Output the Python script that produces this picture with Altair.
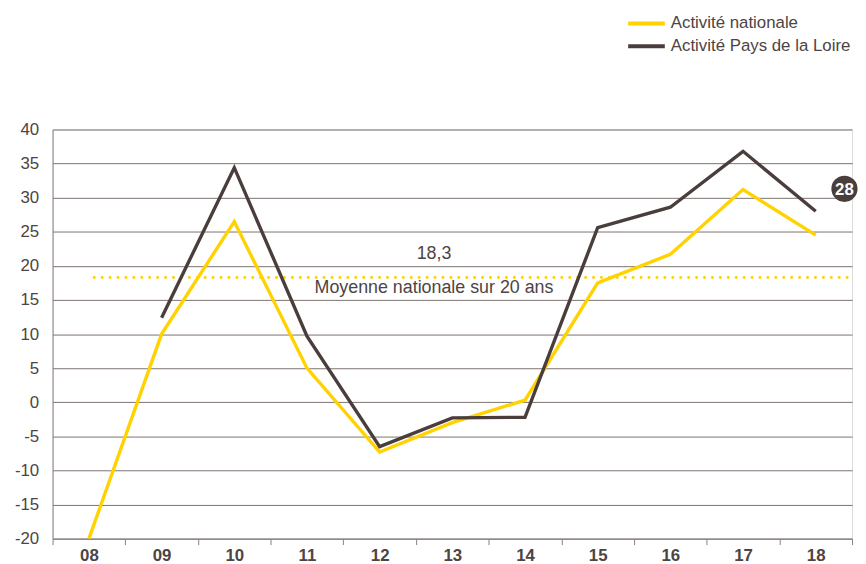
import altair as alt
import pandas as pd

years = ["08", "09", "10", "11", "12", "13", "14", "15", "16", "17", "18"]
national = [-20, 10, 26.5, 5, -7.3, -3, 0.3, 17.5, 21.7, 31.2, 24.5]
pdl = [None, 12.4, 34.4, 9.7, -6.5, -2.3, -2.2, 25.6, 28.6, 36.8, 28]
series_names = ["Activité nationale", "Activité Pays de la Loire"]
series_colors = ["#FFD200", "#4A3E3C"]
moyenne = 18.3
badge_value = "28"

rows = []
for y, v in zip(years, national):
    rows.append({"annee": y, "valeur": v, "serie": series_names[0]})
for y, v in zip(years, pdl):
    if v is not None:
        rows.append({"annee": y, "valeur": v, "serie": series_names[1]})
df = pd.DataFrame(rows)

FONT = "Liberation Sans"
TXT = "#4D4443"
FS = 17
FS2 = 18

xscale = alt.Scale(type="band", domain=years, paddingInner=0, paddingOuter=0)
yscale = alt.Scale(domain=[-20, 40], nice=False)

xaxis = alt.Axis(title=None, labelAngle=0, labelFontWeight="bold",
                 labelFontSize=FS, labelColor=TXT, labelFont=FONT,
                 tickBand="extent", ticks=True, tickSize=6,
                 tickColor="#8A807D", domainColor="#8A807D",
                 labelPadding=3, grid=False)
yaxis = alt.Axis(title=None, values=list(range(-20, 45, 5)),
                 labelExpr="'' + datum.value",
                 labelFontSize=FS, labelColor=TXT, labelFont=FONT,
                 ticks=False, labelPadding=14, domainColor="#8A807D",
                 gridColor="#6E6360", gridOpacity=0.9, labelOverlap=False)

X = lambda f: alt.X(f, scale=xscale, bandPosition=0.5, axis=xaxis)
Y = lambda f: alt.Y(f, scale=yscale, axis=yaxis)

lines = alt.Chart(df).mark_line(strokeWidth=3.4, strokeJoin="miter").encode(
    x=X("annee:O"),
    y=Y("valeur:Q"),
    color=alt.Color("serie:N",
                    scale=alt.Scale(domain=series_names, range=series_colors),
                    legend=alt.Legend(title=None, orient="none", legendX=579,
                                      legendY=-116, symbolType="stroke",
                                      symbolStrokeWidth=4, symbolSize=1369,
                                      clipHeight=18, rowPadding=5,
                                      labelFontSize=FS, labelColor=TXT,
                                      labelFont=FONT, labelLimit=400,
                                      labelOffset=4)),
    order=alt.Order("annee:O"),
)

avg_df = pd.DataFrame({"v": [moyenne]})
avg = alt.Chart(avg_df).mark_rule(
    color="#FFD200", strokeWidth=3, strokeDash=[0.1, 7.9], strokeCap="round"
).encode(y=Y("v:Q"), x=alt.value(42), x2=alt.value(803))

lbl_val = alt.Chart(avg_df).mark_text(
    fontSize=FS2, color=TXT, font=FONT, dy=-24
).encode(y=Y("v:Q"), x=alt.value(385), text=alt.value("18,3"))
lbl_txt = alt.Chart(avg_df).mark_text(
    fontSize=FS2, color=TXT, font=FONT, dy=11
).encode(y=Y("v:Q"), x=alt.value(385),
         text=alt.value("Moyenne nationale sur 20 ans"))

badge_df = pd.DataFrame({"annee": ["18"], "valeur": [31.3], "t": [badge_value]})
badge = alt.Chart(badge_df).mark_point(
    filled=True, size=700, color="#4A3E3C", opacity=1, xOffset=29
).encode(x=X("annee:O"), y=Y("valeur:Q"))
badge_t = alt.Chart(badge_df).mark_text(
    fontSize=FS, fontWeight="bold", color="white", font=FONT, dx=29, dy=1
).encode(x=X("annee:O"), y=Y("valeur:Q"), text="t:N")

chart = alt.layer(avg, lines, lbl_val, lbl_txt, badge, badge_t).properties(
    width=807, height=413,
    autosize=alt.AutoSizeParams(type="none"),
    padding={"left": 45, "top": 120, "right": 6, "bottom": 26},
).configure_view(stroke=None).configure(background="white")

chart.save("out.html", embed_options={"renderer": "svg", "actions": False})
